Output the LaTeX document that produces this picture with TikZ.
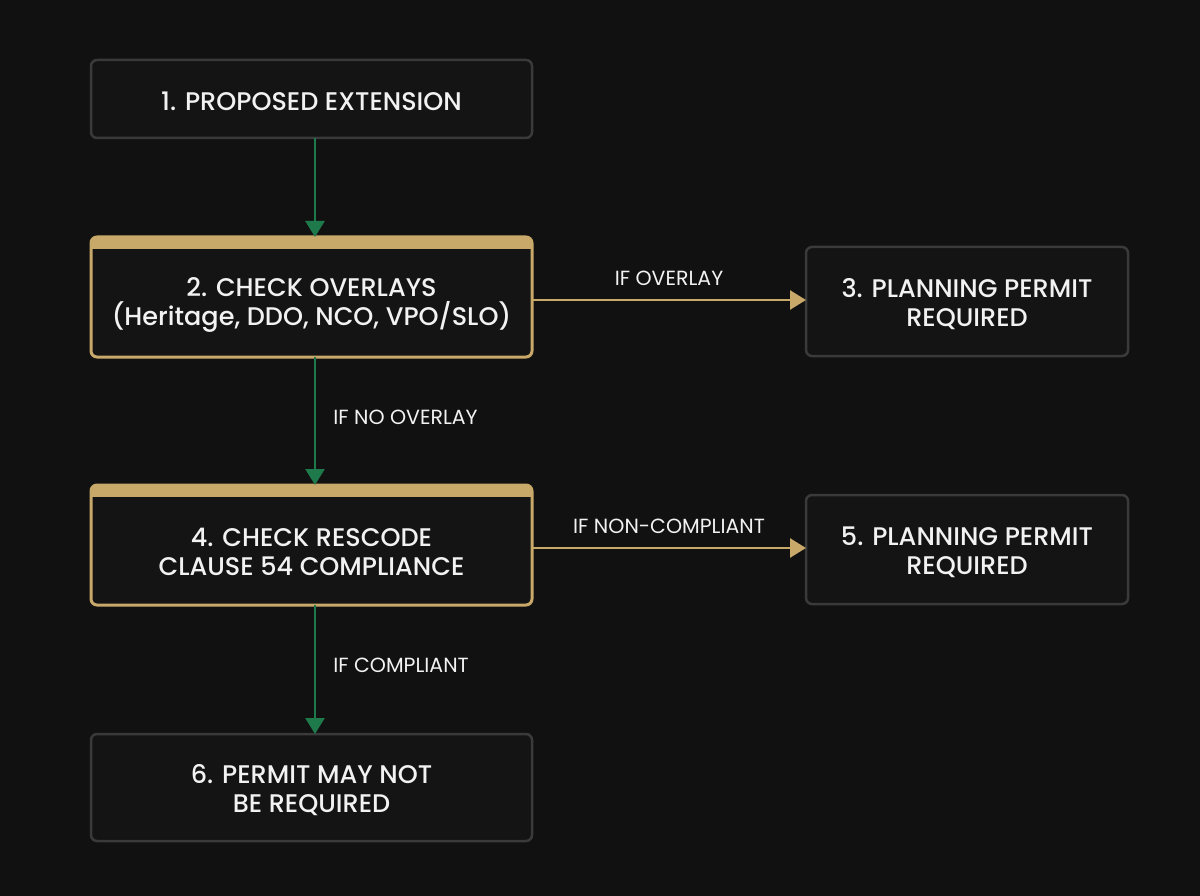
\documentclass[tikz,border=0pt]{standalone}
\usepackage{fontspec}
\setmainfont{Poppins}
\newfontfamily\medfont{Poppins Medium}
\usetikzlibrary{arrows.meta}
\definecolor{bg}{HTML}{111111}
\definecolor{boxfill}{HTML}{141414}
\definecolor{boxline}{HTML}{3A3A3A}
\definecolor{gold}{HTML}{C8A96A}
\definecolor{grn}{HTML}{1E7A4A}
\definecolor{txt}{HTML}{F2F2F2}
\tikzset{
  boxfont/.style={font=\medfont\fontsize{25.5}{29}\selectfont},
  plain/.style={draw=boxline, line width=2.5pt, fill=boxfill, rounded corners=6pt, outer sep=0pt},
  goldbox/.style={plain, draw=gold, line width=3pt},
  boxtext/.style={text=txt, align=center, boxfont, inner sep=0pt},
  garrow/.style={draw=grn, line width=2.5pt, -{Triangle[length=16pt,width=19pt]}},
  yarrow/.style={draw=gold, line width=2.5pt, -{Triangle[length=16pt,width=19pt]}},
  lbl/.style={text=txt, font=\fontsize{20.5}{24}\selectfont, inner sep=0pt}
}
\begin{document}
\begin{tikzpicture}[x=1pt,y=1pt]
\fill[bg] (0,0) rectangle (1200,-896);
\useasboundingbox (0,0) rectangle (1200,-896);

\node[plain, minimum width=441pt, minimum height=78pt] (b1) at (311.5,-99) {};
\node[goldbox, minimum width=441pt, minimum height=120pt] (b2) at (311.5,-297) {};
\node[plain, minimum width=322pt, minimum height=109pt] (b3) at (967,-301.5) {};
\node[goldbox, minimum width=441pt, minimum height=120pt] (b4) at (311.5,-545) {};
\node[plain, minimum width=322pt, minimum height=109pt] (b5) at (967,-549.5) {};
\node[plain, minimum width=441pt, minimum height=107pt] (b6) at (311.5,-787.5) {};

\foreach \b in {b2,b4}{
  \begin{scope}
    \clip[rounded corners=6pt] (\b.north west) rectangle (\b.south east);
    \fill[gold] (\b.north west) rectangle ([yshift=-12pt]\b.north east);
  \end{scope}
}
\node[boxtext] (t1) at ([yshift=-2.5pt]b1.center) {1. PROPOSED EXTENSION};
\node[boxtext] (t2) at ([yshift=-8pt]b2.center) {2. CHECK OVERLAYS\\(Heritage, DDO, NCO, VPO/SLO)};
\node[boxtext] (t3) at ([yshift=-2.5pt]b3.center) {3. PLANNING PERMIT\\REQUIRED};
\node[boxtext] (t4) at ([yshift=-7pt]b4.center) {4. CHECK RESCODE\\CLAUSE 54 COMPLIANCE};
\node[boxtext] (t5) at ([yshift=-2.5pt]b5.center) {5. PLANNING PERMIT\\REQUIRED};
\node[boxtext] (t6) at ([yshift=-3pt]b6.center) {6. PERMIT MAY NOT\\BE REQUIRED};

\coordinate (a1) at (315,-138);
\draw[garrow] (b1.south -| a1) -- (b2.north -| a1);
\draw[garrow] (b2.south -| a1) -- node[lbl, right=17pt, pos=0.47]{IF NO OVERLAY} (b4.north -| a1);
\draw[garrow] (b4.south -| a1) -- node[lbl, right=17pt, pos=0.47]{IF COMPLIANT} (b6.north -| a1);

\coordinate (h1) at (0,-300);
\coordinate (h2) at (0,-548);
\draw[yarrow] (b2.east |- h1) -- node[lbl, above=13pt]{IF OVERLAY} (b3.west |- h1);
\draw[yarrow] (b4.east |- h2) -- node[lbl, above=13pt]{IF NON-COMPLIANT} (b5.west |- h2);
\end{tikzpicture}
\end{document}
